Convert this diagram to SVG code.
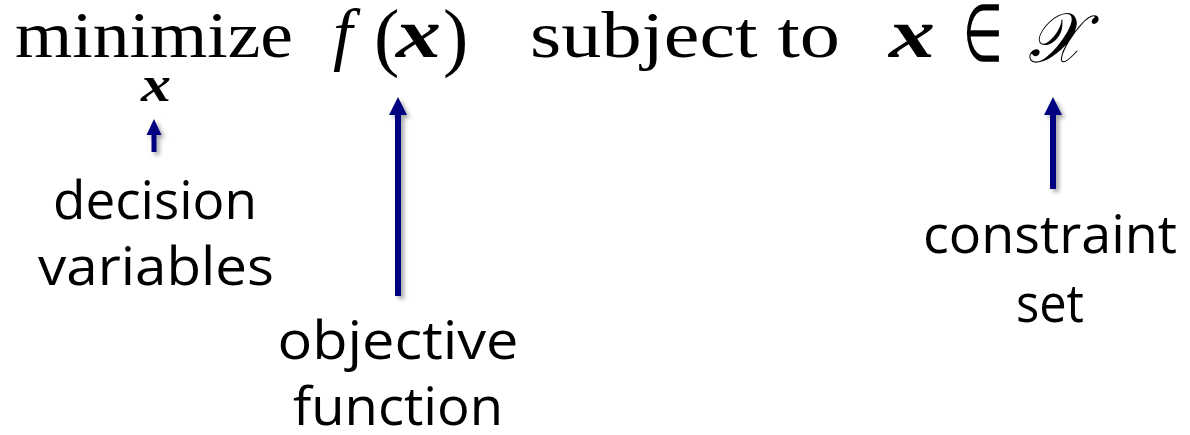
<svg xmlns="http://www.w3.org/2000/svg" width="1190" height="435" viewBox="0 0 1190 435">
<defs>
<style>
.math{font-family:"Liberation Serif","DejaVu Serif",serif;fill:#000}
.elem{font-family:"DejaVu Sans","Liberation Serif",sans-serif;font-weight:200;fill:#000}
.bx{font-family:"Liberation Serif","DejaVu Serif",serif;font-weight:bold;font-style:italic;fill:#000}
.lbl{font-family:"Open Sans","DejaVu Sans",sans-serif;font-size:53px;fill:#000;text-anchor:middle}
.arr{fill:#000080;filter:url(#sh)}
</style>
<filter id="sh" x="-50%" y="-20%" width="250%" height="140%">
<feDropShadow dx="3" dy="3" stdDeviation="2" flood-color="#000" flood-opacity="0.35"/>
</filter>
</defs>
<g id="formula">
<text class="math" x="15" y="57" font-size="66" textLength="278" lengthAdjust="spacingAndGlyphs">minimize</text>
<text class="bx" x="156" y="101" font-size="50" text-anchor="middle" textLength="30" lengthAdjust="spacingAndGlyphs">x</text>
<text class="math" x="333" y="57" font-size="70" font-style="italic">f</text>
<text class="math" x="374" y="62" font-size="76">(</text>
<text class="bx" x="396" y="57" font-size="70" textLength="45" lengthAdjust="spacingAndGlyphs">x</text>
<text class="math" x="443" y="62" font-size="76">)</text>
<text class="math" x="530" y="57" font-size="66" textLength="310" lengthAdjust="spacingAndGlyphs">subject to</text>
<text class="bx" x="889" y="57" font-size="70" textLength="46" lengthAdjust="spacingAndGlyphs">x</text>
<text class="elem" x="963" y="61" font-size="80" textLength="40" lengthAdjust="spacingAndGlyphs">∈</text>
<text class="math" x="1028" y="62" font-size="70" font-style="italic" textLength="54" lengthAdjust="spacingAndGlyphs">𝒳</text>
</g>
<g id="connectors">
<path class="arr" d="M154,119 L161.5,135 L156.5,135 L156.5,152 L151.5,152 L151.5,135 L146.5,135 Z"/>
<path class="arr" d="M398,97 L407,115 L401,115 L401,296 L395,296 L395,115 L389,115 Z"/>
<path class="arr" d="M1053,97 L1062,115 L1056,115 L1056,189 L1050,189 L1050,115 L1044,115 Z"/>
</g>
<g id="decision-variables">
<text class="lbl" x="155" y="219" textLength="204" lengthAdjust="spacingAndGlyphs">decision</text>
<text class="lbl" x="156" y="285" textLength="236" lengthAdjust="spacingAndGlyphs">variables</text>
</g>
<g id="objective-function">
<text class="lbl" x="398" y="359" textLength="241" lengthAdjust="spacingAndGlyphs">objective</text>
<text class="lbl" x="398" y="425" textLength="210" lengthAdjust="spacingAndGlyphs">function</text>
</g>
<g id="constraint-set">
<text class="lbl" x="1050" y="253" textLength="254" lengthAdjust="spacingAndGlyphs">constraint</text>
<text class="lbl" x="1050" y="322" textLength="68" lengthAdjust="spacingAndGlyphs">set</text>
</g>
</svg>
